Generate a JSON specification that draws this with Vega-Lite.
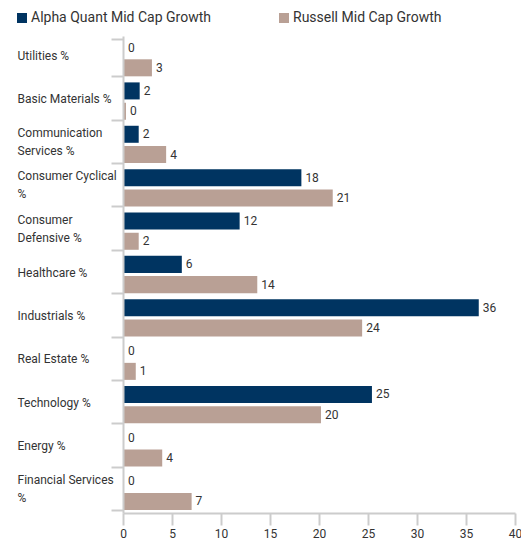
{
  "$schema": "https://vega.github.io/schema/vega-lite/v6.json",
  "autosize": {"type": "none"},
  "width": 392,
  "height": 477,
  "padding": {"left": 123, "top": 36, "right": 6, "bottom": 28},
  "background": "white",
  "config": {
    "view": {"stroke": null},
    "font": "Roboto",
    "text": {"font": "Roboto"}
  },
  "data": {
    "values": [
      {"cat": "Utilities %", "series": "Alpha Quant Mid Cap Growth", "value": 0},
      {"cat": "Utilities %", "series": "Russell Mid Cap Growth", "value": 2.85},
      {"cat": "Basic Materials %", "series": "Alpha Quant Mid Cap Growth", "value": 1.6},
      {"cat": "Basic Materials %", "series": "Russell Mid Cap Growth", "value": 0.2},
      {"cat": "Communication Services %", "series": "Alpha Quant Mid Cap Growth", "value": 1.5},
      {"cat": "Communication Services %", "series": "Russell Mid Cap Growth", "value": 4.3},
      {"cat": "Consumer Cyclical %", "series": "Alpha Quant Mid Cap Growth", "value": 18.1},
      {"cat": "Consumer Cyclical %", "series": "Russell Mid Cap Growth", "value": 21.3},
      {"cat": "Consumer Defensive %", "series": "Alpha Quant Mid Cap Growth", "value": 11.8},
      {"cat": "Consumer Defensive %", "series": "Russell Mid Cap Growth", "value": 1.5},
      {"cat": "Healthcare %", "series": "Alpha Quant Mid Cap Growth", "value": 5.9},
      {"cat": "Healthcare %", "series": "Russell Mid Cap Growth", "value": 13.6},
      {"cat": "Industrials %", "series": "Alpha Quant Mid Cap Growth", "value": 36.2},
      {"cat": "Industrials %", "series": "Russell Mid Cap Growth", "value": 24.3},
      {"cat": "Real Estate %", "series": "Alpha Quant Mid Cap Growth", "value": 0},
      {"cat": "Real Estate %", "series": "Russell Mid Cap Growth", "value": 1.2},
      {"cat": "Technology %", "series": "Alpha Quant Mid Cap Growth", "value": 25.3},
      {"cat": "Technology %", "series": "Russell Mid Cap Growth", "value": 20.1},
      {"cat": "Energy %", "series": "Alpha Quant Mid Cap Growth", "value": 0},
      {"cat": "Energy %", "series": "Russell Mid Cap Growth", "value": 3.9},
      {"cat": "Financial Services %", "series": "Alpha Quant Mid Cap Growth", "value": 0},
      {"cat": "Financial Services %", "series": "Russell Mid Cap Growth", "value": 6.9}
    ]
  },
  "encoding": {
    "y": {
      "field": "cat",
      "type": "nominal",
      "sort": null,
      "title": null,
      "scale": {"paddingInner": 0.14, "paddingOuter": 0.07},
      "axis": {
        "zindex": 1,
        "tickBand": "extent",
        "tickSize": 12,
        "tickColor": "#cccccc",
        "tickWidth": 2,
        "domainColor": "#cccccc",
        "domainWidth": 2,
        "labelAlign": "left",
        "labelPadding": 94,
        "labelFontSize": 12,
        "labelColor": "#333333",
        "labelLineHeight": 18,
        "labelOffset": {
          "condition": {"test": "indexof(['Communication Services %','Consumer Cyclical %','Consumer Defensive %','Financial Services %'], datum.value) >= 0", "value": -12},
          "value": -2.5
        },
        "labelLimit": 110,
        "labelExpr": "datum.value == 'Communication Services %' ? ['Communication','Services %'] : datum.value == 'Consumer Cyclical %' ? ['Consumer Cyclical','%'] : datum.value == 'Consumer Defensive %' ? ['Consumer','Defensive %'] : datum.value == 'Financial Services %' ? ['Financial Services','%'] : datum.label"
      }
    },
    "yOffset": {
      "field": "series",
      "type": "nominal",
      "sort": ["Alpha Quant Mid Cap Growth", "Russell Mid Cap Growth"],
      "scale": {"paddingInner": 0.16}
    },
    "x": {
      "field": "value",
      "type": "quantitative",
      "title": null,
      "scale": {"domain": [0, 40], "nice": false},
      "axis": {
        "grid": false,
        "values": [0, 5, 10, 15, 20, 25, 30, 35, 40],
        "tickSize": 12,
        "tickColor": "#cccccc",
        "tickWidth": 2,
        "domainColor": "#cccccc",
        "domainWidth": 2,
        "labelFontSize": 12,
        "labelColor": "#333333",
        "labelPadding": 3,
        "labelFlush": false
      }
    }
  },
  "layer": [
    {
      "mark": {"type": "bar", "xOffset": 1},
      "encoding": {
        "color": {
          "field": "series",
          "type": "nominal",
          "scale": {
            "domain": ["Alpha Quant Mid Cap Growth", "Russell Mid Cap Growth"],
            "range": ["#003461", "#b9a095"]
          },
          "legend": {
            "title": null,
            "orient": "none",
            "legendX": -108,
            "legendY": -25,
            "direction": "horizontal",
            "symbolType": "square",
            "symbolSize": 100,
            "symbolStrokeWidth": 0,
            "labelFontSize": 14,
            "labelColor": "#333333",
            "labelOffset": 2,
            "labelLimit": 250,
            "columnPadding": 66
          }
        }
      }
    },
    {
      "mark": {"type": "text", "align": "left", "baseline": "middle", "dx": 5, "fontSize": 12, "color": "#333333"},
      "encoding": {
        "text": {"field": "value", "type": "quantitative", "format": ".0f"}
      }
    }
  ]
}
